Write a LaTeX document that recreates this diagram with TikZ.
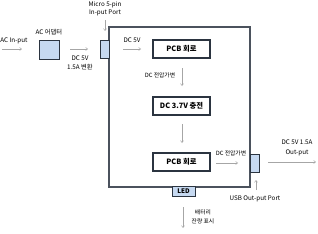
\documentclass[tikz,border=0pt]{standalone}
\usepackage{fontspec}
\setmainfont{Noto Sans CJK KR}
\usetikzlibrary{arrows.meta}
\definecolor{boxfill}{HTML}{C6D9F1}
\definecolor{boxline}{HTML}{2B3440}
\definecolor{arrowc}{HTML}{A6A6A6}
\begin{document}
\begin{tikzpicture}[x=1pt,y=-1pt,
  lbl/.style={font=\fontsize{6.3}{9.5}\selectfont, inner sep=0pt, align=center},
  klbl/.style={font=\fontsize{5.8}{9.5}\selectfont, inner sep=0pt, align=center},
  blk/.style={draw=boxline, line width=1.1pt, fill=white, minimum width=57pt, minimum height=18pt, inner sep=0pt, font=\fontsize{7.3}{8}\selectfont\bfseries},
  port/.style={draw=boxline, line width=1pt, fill=boxfill, inner sep=0pt},
  arr/.style={draw=arrowc, line width=0.5pt, -{Straight Barb[length=2pt,width=3pt]}}]
\useasboundingbox (0,0) rectangle (318,233);
% big frame
\node[draw=boxline!85, line width=1.1pt, fill=white, minimum width=141pt, minimum height=160pt, inner sep=0pt] (frame) at (179.5,107) {};
% AC input
\node[lbl] (acin) at (14,41) {AC In-put};
\coordinate (acinS) at (2,49);
\coordinate (acinE) at (22,49);
\draw[arr] (acinS) -- (acinE);
\node[port, minimum width=20pt, minimum height=19pt] (adapter) at (49,49.5) {};
\node[lbl] (adlbl) at (49,32.5) {AC 어댑터};
% adapter to micro
\node[port, minimum width=9pt, minimum height=18pt] (micro) at (104.5,49) {};
\node[lbl, font=\fontsize{6.3}{8.5}\selectfont] (microlbl) at (105,9) {Micro 5-pin\\In-put Port};
\coordinate (m1s) at (105,20);
\coordinate (m1e) at (105,31);
\draw[arr] (m1s) -- (m1e);
\coordinate (a1s) at (70,49);
\coordinate (a1e) at (88,49);
\draw[arr] (a1s) -- (a1e);
\node[lbl] (dc5v15) at (80,63) {DC 5V\\1.5A 변환};
% inside
\node[lbl] (dc5v) at (132,40.5) {DC 5V};
\coordinate (a2s) at (123,49);
\coordinate (a2e) at (141,49);
\draw[arr] (a2s) -- (a2e);
\node[blk] (pcb1) at (181.5,49) {PCB 회로};
\node[blk] (dc37) at (181.5,106) {DC 3.7V 충전};
\node[blk] (pcb2) at (181.5,162) {PCB 회로};
\node[klbl] (var1) at (160,75) {DC 전압가변};
\coordinate (d1s) at (182,68);
\coordinate (d1e) at (182,86);
\draw[arr] (d1s) -- (d1e);
\coordinate (d2s) at (182,124);
\coordinate (d2e) at (182,143);
\draw[arr] (d2s) -- (d2e);
\node[klbl] (var2) at (231,153) {DC 전압가변};
\coordinate (r1s) at (216,163);
\coordinate (r1e) at (238,163);
\draw[arr] (r1s) -- (r1e);
% USB
\node[port, minimum width=9pt, minimum height=18pt] (usb) at (254.5,163.5) {};
\coordinate (o1s) at (268,162);
\coordinate (o1e) at (316,162);
\draw[arr] (o1s) -- (o1e);
\node[lbl] (outlbl) at (297,148) {DC 5V 1.5A\\Out-put};
\node[lbl] (usblbl) at (255,199) {USB Out-put Port};
\coordinate (u1s) at (256,190);
\coordinate (u1e) at (256,180);
\draw[arr] (u1s) -- (u1e);
% LED
\node[port, minimum width=23pt, minimum height=10pt, font=\fontsize{6.3}{7}\selectfont\bfseries] (led) at (183.5,191.5) {LED};
\coordinate (l1s) at (183,207);
\coordinate (l1e) at (183,228);
\draw[arr] (l1s) -- (l1e);
\node[klbl] (bat) at (203,217) {배터리\\잔량 표시};
\end{tikzpicture}
\end{document}
